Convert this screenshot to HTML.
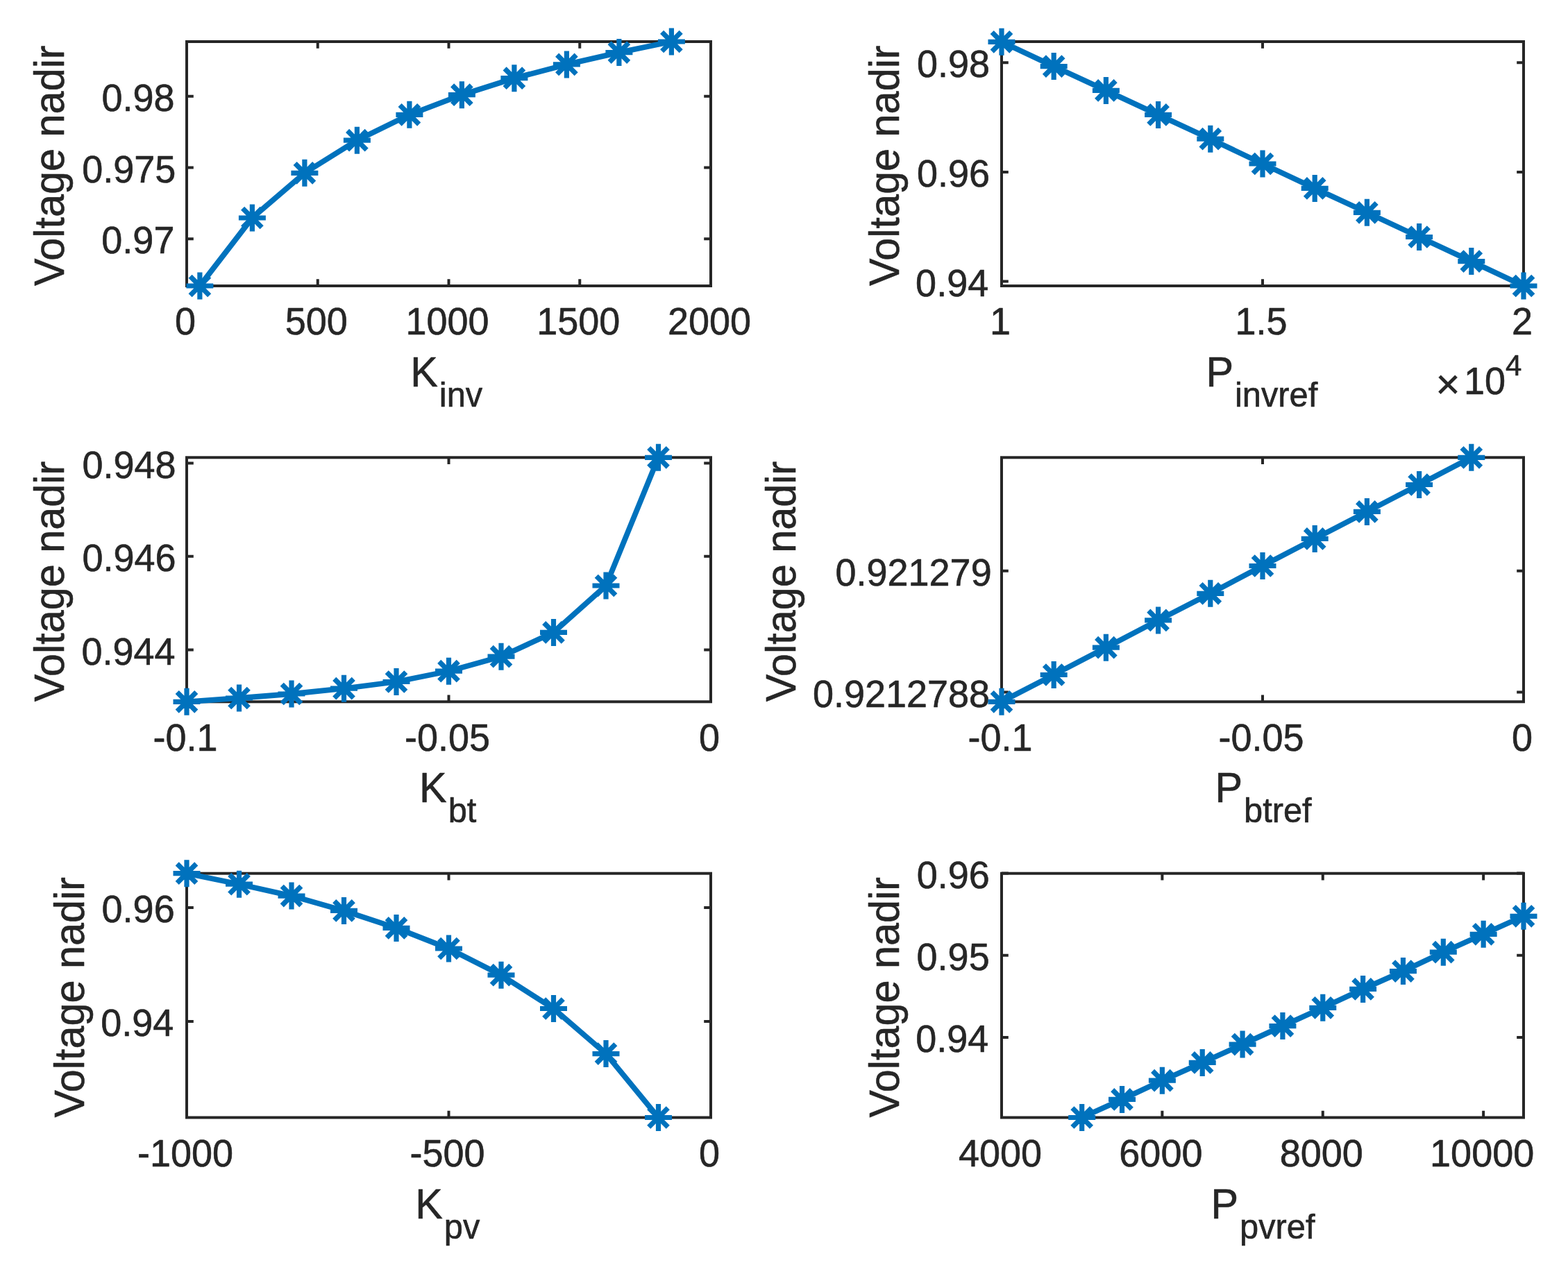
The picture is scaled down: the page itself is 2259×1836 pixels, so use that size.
<!DOCTYPE html>
<html><head><meta charset="utf-8"><title>Voltage nadir sensitivity</title><style>
html,body{margin:0;padding:0;background:#fff;overflow:hidden;}
svg{display:block;}
text{font-family:"Liberation Sans",Arial,Helvetica,sans-serif;fill:#262626;stroke:#262626;stroke-width:0.6px;stroke-linejoin:round;}
</style></head><body>
<svg width="2259" height="1836" viewBox="0 0 2259 1836">
<rect x="0" y="0" width="2259" height="1836" fill="#fff"/>
<g>
<path d="M269 412v-9.8 M269 60v9.8 M457.75 412v-9.8 M457.75 60v9.8 M646.5 412v-9.8 M646.5 60v9.8 M835.25 412v-9.8 M835.25 60v9.8 M1024 412v-9.8 M1024 60v9.8 M269 344.3h9.8 M1024 344.3h-9.8 M269 241.5h9.8 M1024 241.5h-9.8 M269 138.8h9.8 M1024 138.8h-9.8" stroke="#262626" stroke-width="4.0" fill="none"/>
<rect x="269" y="60" width="755" height="352" stroke="#262626" stroke-width="4.0" fill="none"/>
<text transform="translate(267 482.3) scale(1 1.025)" font-size="54" text-anchor="middle">0</text>
<text transform="translate(455.75 482.3) scale(1 1.025)" font-size="54" text-anchor="middle">500</text>
<text transform="translate(644.5 482.3) scale(1 1.025)" font-size="54" text-anchor="middle">1000</text>
<text transform="translate(833.25 482.3) scale(1 1.025)" font-size="54" text-anchor="middle">1500</text>
<text transform="translate(1022 482.3) scale(1 1.025)" font-size="54" text-anchor="middle">2000</text>
<text transform="translate(251.42 365.4) scale(1 1.025)" font-size="54" text-anchor="end">0.97</text>
<text transform="translate(253.37 262.6) scale(1 1.025)" font-size="54" text-anchor="end">0.975</text>
<text transform="translate(251.55 159.9) scale(1 1.025)" font-size="54" text-anchor="end">0.98</text>
<text transform="translate(591.2 556.9) scale(1 1.025)" font-size="59.4">K<tspan font-size="48.8" dx="2" dy="28.29">inv</tspan></text>
<text transform="translate(91.9 238.7) rotate(-90) scale(1 1.025)" font-size="59.4" text-anchor="middle">Voltage nadir</text>
<polyline points="287.88,412 363.38,314 438.88,249.3 514.38,202.2 589.88,165.3 665.38,136.7 740.88,112.7 816.38,92.9 891.88,75.6 967.38,60" stroke="#0072BD" stroke-width="7.8" fill="none" stroke-linejoin="round"/>
<path d="M287.88 392.5v39 M268.38 412h39 M274.09 398.21l27.58 27.58 M274.09 425.79l27.58 -27.58 M363.38 294.5v39 M343.88 314h39 M349.59 300.21l27.58 27.58 M349.59 327.79l27.58 -27.58 M438.88 229.8v39 M419.38 249.3h39 M425.09 235.51l27.58 27.58 M425.09 263.09l27.58 -27.58 M514.38 182.7v39 M494.88 202.2h39 M500.59 188.41l27.58 27.58 M500.59 215.99l27.58 -27.58 M589.88 145.8v39 M570.38 165.3h39 M576.09 151.51l27.58 27.58 M576.09 179.09l27.58 -27.58 M665.38 117.2v39 M645.88 136.7h39 M651.59 122.91l27.58 27.58 M651.59 150.49l27.58 -27.58 M740.88 93.2v39 M721.38 112.7h39 M727.09 98.91l27.58 27.58 M727.09 126.49l27.58 -27.58 M816.38 73.4v39 M796.88 92.9h39 M802.59 79.11l27.58 27.58 M802.59 106.69l27.58 -27.58 M891.88 56.1v39 M872.38 75.6h39 M878.09 61.81l27.58 27.58 M878.09 89.39l27.58 -27.58 M967.38 40.5v39 M947.88 60h39 M953.59 46.21l27.58 27.58 M953.59 73.79l27.58 -27.58" stroke="#0072BD" stroke-width="7.2" fill="none"/>
</g>
<g>
<path d="M1443 412v-9.8 M1443 60v9.8 M1819 412v-9.8 M1819 60v9.8 M2195 412v-9.8 M2195 60v9.8 M1443 405.5h9.8 M2195 405.5h-9.8 M1443 247.9h9.8 M2195 247.9h-9.8 M1443 90.3h9.8 M2195 90.3h-9.8" stroke="#262626" stroke-width="4.0" fill="none"/>
<rect x="1443" y="60" width="752" height="352" stroke="#262626" stroke-width="4.0" fill="none"/>
<text transform="translate(1441 482.3) scale(1 1.025)" font-size="54" text-anchor="middle">1</text>
<text transform="translate(1817 482.3) scale(1 1.025)" font-size="54" text-anchor="middle">1.5</text>
<text transform="translate(2193 482.3) scale(1 1.025)" font-size="54" text-anchor="middle">2</text>
<text transform="translate(1424.18 426.6) scale(1 1.025)" font-size="54" text-anchor="end">0.94</text>
<text transform="translate(1425.97 269) scale(1 1.025)" font-size="54" text-anchor="end">0.96</text>
<text transform="translate(1425.95 111.4) scale(1 1.025)" font-size="54" text-anchor="end">0.98</text>
<text transform="translate(1737.4 556.9) scale(1 1.025)" font-size="59.4">P<tspan font-size="48.8" dx="2" dy="28.29">invref</tspan></text>
<text transform="translate(1295 238.7) rotate(-90) scale(1 1.025)" font-size="59.4" text-anchor="middle">Voltage nadir</text>
<text transform="translate(2068.6 574.2)" font-size="60">&#215;</text>
<text transform="translate(2108.9 568) scale(1 1.025)" font-size="54">10<tspan font-size="42.0" dy="-26.44">4</tspan></text>
<polyline points="1443,60.3 1518.2,95.6 1593.4,130.4 1668.6,165.4 1743.8,200.2 1819,236 1894.2,271.4 1969.4,306.3 2044.6,341.5 2119.8,376.6 2195,412" stroke="#0072BD" stroke-width="7.8" fill="none" stroke-linejoin="round"/>
<path d="M1443 40.8v39 M1423.5 60.3h39 M1429.21 46.51l27.58 27.58 M1429.21 74.09l27.58 -27.58 M1518.2 76.1v39 M1498.7 95.6h39 M1504.41 81.81l27.58 27.58 M1504.41 109.39l27.58 -27.58 M1593.4 110.9v39 M1573.9 130.4h39 M1579.61 116.61l27.58 27.58 M1579.61 144.19l27.58 -27.58 M1668.6 145.9v39 M1649.1 165.4h39 M1654.81 151.61l27.58 27.58 M1654.81 179.19l27.58 -27.58 M1743.8 180.7v39 M1724.3 200.2h39 M1730.01 186.41l27.58 27.58 M1730.01 213.99l27.58 -27.58 M1819 216.5v39 M1799.5 236h39 M1805.21 222.21l27.58 27.58 M1805.21 249.79l27.58 -27.58 M1894.2 251.9v39 M1874.7 271.4h39 M1880.41 257.61l27.58 27.58 M1880.41 285.19l27.58 -27.58 M1969.4 286.8v39 M1949.9 306.3h39 M1955.61 292.51l27.58 27.58 M1955.61 320.09l27.58 -27.58 M2044.6 322v39 M2025.1 341.5h39 M2030.81 327.71l27.58 27.58 M2030.81 355.29l27.58 -27.58 M2119.8 357.1v39 M2100.3 376.6h39 M2106.01 362.81l27.58 27.58 M2106.01 390.39l27.58 -27.58 M2195 392.5v39 M2175.5 412h39 M2181.21 398.21l27.58 27.58 M2181.21 425.79l27.58 -27.58" stroke="#0072BD" stroke-width="7.2" fill="none"/>
</g>
<g>
<path d="M269 1011.3v-9.8 M269 659.3v9.8 M646.5 1011.3v-9.8 M646.5 659.3v9.8 M1024 1011.3v-9.8 M1024 659.3v9.8 M269 936.5h9.8 M1024 936.5h-9.8 M269 801.7h9.8 M1024 801.7h-9.8 M269 667.4h9.8 M1024 667.4h-9.8" stroke="#262626" stroke-width="4.0" fill="none"/>
<rect x="269" y="659.3" width="755" height="352" stroke="#262626" stroke-width="4.0" fill="none"/>
<text transform="translate(267 1081.6) scale(1 1.025)" font-size="54" text-anchor="middle">-0.1</text>
<text transform="translate(644.5 1081.6) scale(1 1.025)" font-size="54" text-anchor="middle">-0.05</text>
<text transform="translate(1022 1081.6) scale(1 1.025)" font-size="54" text-anchor="middle">0</text>
<text transform="translate(252.48 957.6) scale(1 1.025)" font-size="54" text-anchor="end">0.944</text>
<text transform="translate(253.57 822.8) scale(1 1.025)" font-size="54" text-anchor="end">0.946</text>
<text transform="translate(253.55 688.5) scale(1 1.025)" font-size="54" text-anchor="end">0.948</text>
<text transform="translate(604.1 1155.9) scale(1 1.025)" font-size="59.4">K<tspan font-size="48.8" dx="2" dy="28.29">bt</tspan></text>
<text transform="translate(91.9 838) rotate(-90) scale(1 1.025)" font-size="59.4" text-anchor="middle">Voltage nadir</text>
<polyline points="269,1011.3 344.5,1006 420,1000 495.5,992.2 571,982.5 646.5,967.2 722,946.2 797.5,911.4 873,844 948.5,659.3" stroke="#0072BD" stroke-width="7.8" fill="none" stroke-linejoin="round"/>
<path d="M269 991.8v39 M249.5 1011.3h39 M255.21 997.51l27.58 27.58 M255.21 1025.09l27.58 -27.58 M344.5 986.5v39 M325 1006h39 M330.71 992.21l27.58 27.58 M330.71 1019.79l27.58 -27.58 M420 980.5v39 M400.5 1000h39 M406.21 986.21l27.58 27.58 M406.21 1013.79l27.58 -27.58 M495.5 972.7v39 M476 992.2h39 M481.71 978.41l27.58 27.58 M481.71 1005.99l27.58 -27.58 M571 963v39 M551.5 982.5h39 M557.21 968.71l27.58 27.58 M557.21 996.29l27.58 -27.58 M646.5 947.7v39 M627 967.2h39 M632.71 953.41l27.58 27.58 M632.71 980.99l27.58 -27.58 M722 926.7v39 M702.5 946.2h39 M708.21 932.41l27.58 27.58 M708.21 959.99l27.58 -27.58 M797.5 891.9v39 M778 911.4h39 M783.71 897.61l27.58 27.58 M783.71 925.19l27.58 -27.58 M873 824.5v39 M853.5 844h39 M859.21 830.21l27.58 27.58 M859.21 857.79l27.58 -27.58 M948.5 639.8v39 M929 659.3h39 M934.71 645.51l27.58 27.58 M934.71 673.09l27.58 -27.58" stroke="#0072BD" stroke-width="7.2" fill="none"/>
</g>
<g>
<path d="M1443 1011.3v-9.8 M1443 659.3v9.8 M1819 1011.3v-9.8 M1819 659.3v9.8 M2195 1011.3v-9.8 M2195 659.3v9.8 M1443 997.6h9.8 M2195 997.6h-9.8 M1443 822.7h9.8 M2195 822.7h-9.8" stroke="#262626" stroke-width="4.0" fill="none"/>
<rect x="1443" y="659.3" width="752" height="352" stroke="#262626" stroke-width="4.0" fill="none"/>
<text transform="translate(1441 1081.6) scale(1 1.025)" font-size="54" text-anchor="middle">-0.1</text>
<text transform="translate(1817 1081.6) scale(1 1.025)" font-size="54" text-anchor="middle">-0.05</text>
<text transform="translate(2193 1081.6) scale(1 1.025)" font-size="54" text-anchor="middle">0</text>
<text transform="translate(1426.15 1018.7) scale(1 1.025)" font-size="54" text-anchor="end">0.9212788</text>
<text transform="translate(1428.66 843.8) scale(1 1.025)" font-size="54" text-anchor="end">0.921279</text>
<text transform="translate(1750.4 1155.8) scale(1 1.025)" font-size="59.4">P<tspan font-size="48.8" dx="2" dy="28.29">btref</tspan></text>
<text transform="translate(1145.6 838) rotate(-90) scale(1 1.025)" font-size="59.4" text-anchor="middle">Voltage nadir</text>
<polyline points="1443,1011.3 1518.2,972.5 1593.4,933.2 1668.6,893.9 1743.8,855.3 1819,815.5 1894.2,776.4 1969.4,737.4 2044.6,698.5 2119.8,659.3" stroke="#0072BD" stroke-width="7.8" fill="none" stroke-linejoin="round"/>
<path d="M1443 991.8v39 M1423.5 1011.3h39 M1429.21 997.51l27.58 27.58 M1429.21 1025.09l27.58 -27.58 M1518.2 953v39 M1498.7 972.5h39 M1504.41 958.71l27.58 27.58 M1504.41 986.29l27.58 -27.58 M1593.4 913.7v39 M1573.9 933.2h39 M1579.61 919.41l27.58 27.58 M1579.61 946.99l27.58 -27.58 M1668.6 874.4v39 M1649.1 893.9h39 M1654.81 880.11l27.58 27.58 M1654.81 907.69l27.58 -27.58 M1743.8 835.8v39 M1724.3 855.3h39 M1730.01 841.51l27.58 27.58 M1730.01 869.09l27.58 -27.58 M1819 796v39 M1799.5 815.5h39 M1805.21 801.71l27.58 27.58 M1805.21 829.29l27.58 -27.58 M1894.2 756.9v39 M1874.7 776.4h39 M1880.41 762.61l27.58 27.58 M1880.41 790.19l27.58 -27.58 M1969.4 717.9v39 M1949.9 737.4h39 M1955.61 723.61l27.58 27.58 M1955.61 751.19l27.58 -27.58 M2044.6 679v39 M2025.1 698.5h39 M2030.81 684.71l27.58 27.58 M2030.81 712.29l27.58 -27.58 M2119.8 639.8v39 M2100.3 659.3h39 M2106.01 645.51l27.58 27.58 M2106.01 673.09l27.58 -27.58" stroke="#0072BD" stroke-width="7.2" fill="none"/>
</g>
<g>
<path d="M269 1610.5v-9.8 M269 1258.7v9.8 M646.5 1610.5v-9.8 M646.5 1258.7v9.8 M1024 1610.5v-9.8 M1024 1258.7v9.8 M269 1471.9h9.8 M1024 1471.9h-9.8 M269 1307.9h9.8 M1024 1307.9h-9.8" stroke="#262626" stroke-width="4.0" fill="none"/>
<rect x="269" y="1258.7" width="755" height="351.8" stroke="#262626" stroke-width="4.0" fill="none"/>
<text transform="translate(267 1680.8) scale(1 1.025)" font-size="54" text-anchor="middle">-1000</text>
<text transform="translate(644.5 1680.8) scale(1 1.025)" font-size="54" text-anchor="middle">-500</text>
<text transform="translate(1022 1680.8) scale(1 1.025)" font-size="54" text-anchor="middle">0</text>
<text transform="translate(250.28 1493) scale(1 1.025)" font-size="54" text-anchor="end">0.94</text>
<text transform="translate(251.67 1329) scale(1 1.025)" font-size="54" text-anchor="end">0.96</text>
<text transform="translate(598.2 1755.9) scale(1 1.025)" font-size="59.4">K<tspan font-size="48.8" dx="2" dy="28.29">pv</tspan></text>
<text transform="translate(121.2 1437.3) rotate(-90) scale(1 1.025)" font-size="59.4" text-anchor="middle">Voltage nadir</text>
<polyline points="269,1258.7 344.5,1274.2 420,1291.1 495.5,1312.4 571,1337.4 646.5,1367 722,1405.2 797.5,1453.5 873,1518.6 948.5,1610.5" stroke="#0072BD" stroke-width="7.8" fill="none" stroke-linejoin="round"/>
<path d="M269 1239.2v39 M249.5 1258.7h39 M255.21 1244.91l27.58 27.58 M255.21 1272.49l27.58 -27.58 M344.5 1254.7v39 M325 1274.2h39 M330.71 1260.41l27.58 27.58 M330.71 1287.99l27.58 -27.58 M420 1271.6v39 M400.5 1291.1h39 M406.21 1277.31l27.58 27.58 M406.21 1304.89l27.58 -27.58 M495.5 1292.9v39 M476 1312.4h39 M481.71 1298.61l27.58 27.58 M481.71 1326.19l27.58 -27.58 M571 1317.9v39 M551.5 1337.4h39 M557.21 1323.61l27.58 27.58 M557.21 1351.19l27.58 -27.58 M646.5 1347.5v39 M627 1367h39 M632.71 1353.21l27.58 27.58 M632.71 1380.79l27.58 -27.58 M722 1385.7v39 M702.5 1405.2h39 M708.21 1391.41l27.58 27.58 M708.21 1418.99l27.58 -27.58 M797.5 1434v39 M778 1453.5h39 M783.71 1439.71l27.58 27.58 M783.71 1467.29l27.58 -27.58 M873 1499.1v39 M853.5 1518.6h39 M859.21 1504.81l27.58 27.58 M859.21 1532.39l27.58 -27.58 M948.5 1591v39 M929 1610.5h39 M934.71 1596.71l27.58 27.58 M934.71 1624.29l27.58 -27.58" stroke="#0072BD" stroke-width="7.2" fill="none"/>
</g>
<g>
<path d="M1443 1610.5v-9.8 M1443 1258.7v9.8 M1674.38 1610.5v-9.8 M1674.38 1258.7v9.8 M1905.77 1610.5v-9.8 M1905.77 1258.7v9.8 M2137.15 1610.5v-9.8 M2137.15 1258.7v9.8 M1443 1495h9.8 M2195 1495h-9.8 M1443 1376.7h9.8 M2195 1376.7h-9.8 M1443 1258.5h9.8 M2195 1258.5h-9.8" stroke="#262626" stroke-width="4.0" fill="none"/>
<rect x="1443" y="1258.7" width="752" height="351.8" stroke="#262626" stroke-width="4.0" fill="none"/>
<text transform="translate(1441 1680.8) scale(1 1.025)" font-size="54" text-anchor="middle">4000</text>
<text transform="translate(1672.38 1680.8) scale(1 1.025)" font-size="54" text-anchor="middle">6000</text>
<text transform="translate(1903.77 1680.8) scale(1 1.025)" font-size="54" text-anchor="middle">8000</text>
<text transform="translate(2135.15 1680.8) scale(1 1.025)" font-size="54" text-anchor="middle">10000</text>
<text transform="translate(1424.28 1516.1) scale(1 1.025)" font-size="54" text-anchor="end">0.94</text>
<text transform="translate(1425.67 1397.8) scale(1 1.025)" font-size="54" text-anchor="end">0.95</text>
<text transform="translate(1425.77 1279.6) scale(1 1.025)" font-size="54" text-anchor="end">0.96</text>
<text transform="translate(1744.4 1755.8) scale(1 1.025)" font-size="59.4">P<tspan font-size="48.8" dx="2" dy="28.29">pvref</tspan></text>
<text transform="translate(1295 1437.3) rotate(-90) scale(1 1.025)" font-size="59.4" text-anchor="middle">Voltage nadir</text>
<polyline points="1558.69,1610.5 1616.54,1584.4 1674.38,1557.2 1732.23,1531.4 1790.08,1505.1 1847.92,1478.6 1905.77,1452.3 1963.62,1425.4 2021.46,1399.6 2079.31,1372.2 2137.15,1346.3 2195,1320.3" stroke="#0072BD" stroke-width="7.8" fill="none" stroke-linejoin="round"/>
<path d="M1558.69 1591v39 M1539.19 1610.5h39 M1544.9 1596.71l27.58 27.58 M1544.9 1624.29l27.58 -27.58 M1616.54 1564.9v39 M1597.04 1584.4h39 M1602.75 1570.61l27.58 27.58 M1602.75 1598.19l27.58 -27.58 M1674.38 1537.7v39 M1654.88 1557.2h39 M1660.6 1543.41l27.58 27.58 M1660.6 1570.99l27.58 -27.58 M1732.23 1511.9v39 M1712.73 1531.4h39 M1718.44 1517.61l27.58 27.58 M1718.44 1545.19l27.58 -27.58 M1790.08 1485.6v39 M1770.58 1505.1h39 M1776.29 1491.31l27.58 27.58 M1776.29 1518.89l27.58 -27.58 M1847.92 1459.1v39 M1828.42 1478.6h39 M1834.13 1464.81l27.58 27.58 M1834.13 1492.39l27.58 -27.58 M1905.77 1432.8v39 M1886.27 1452.3h39 M1891.98 1438.51l27.58 27.58 M1891.98 1466.09l27.58 -27.58 M1963.62 1405.9v39 M1944.12 1425.4h39 M1949.83 1411.61l27.58 27.58 M1949.83 1439.19l27.58 -27.58 M2021.46 1380.1v39 M2001.96 1399.6h39 M2007.67 1385.81l27.58 27.58 M2007.67 1413.39l27.58 -27.58 M2079.31 1352.7v39 M2059.81 1372.2h39 M2065.52 1358.41l27.58 27.58 M2065.52 1385.99l27.58 -27.58 M2137.15 1326.8v39 M2117.65 1346.3h39 M2123.37 1332.51l27.58 27.58 M2123.37 1360.09l27.58 -27.58 M2195 1300.8v39 M2175.5 1320.3h39 M2181.21 1306.51l27.58 27.58 M2181.21 1334.09l27.58 -27.58" stroke="#0072BD" stroke-width="7.2" fill="none"/>
</g>
</svg></body></html>
